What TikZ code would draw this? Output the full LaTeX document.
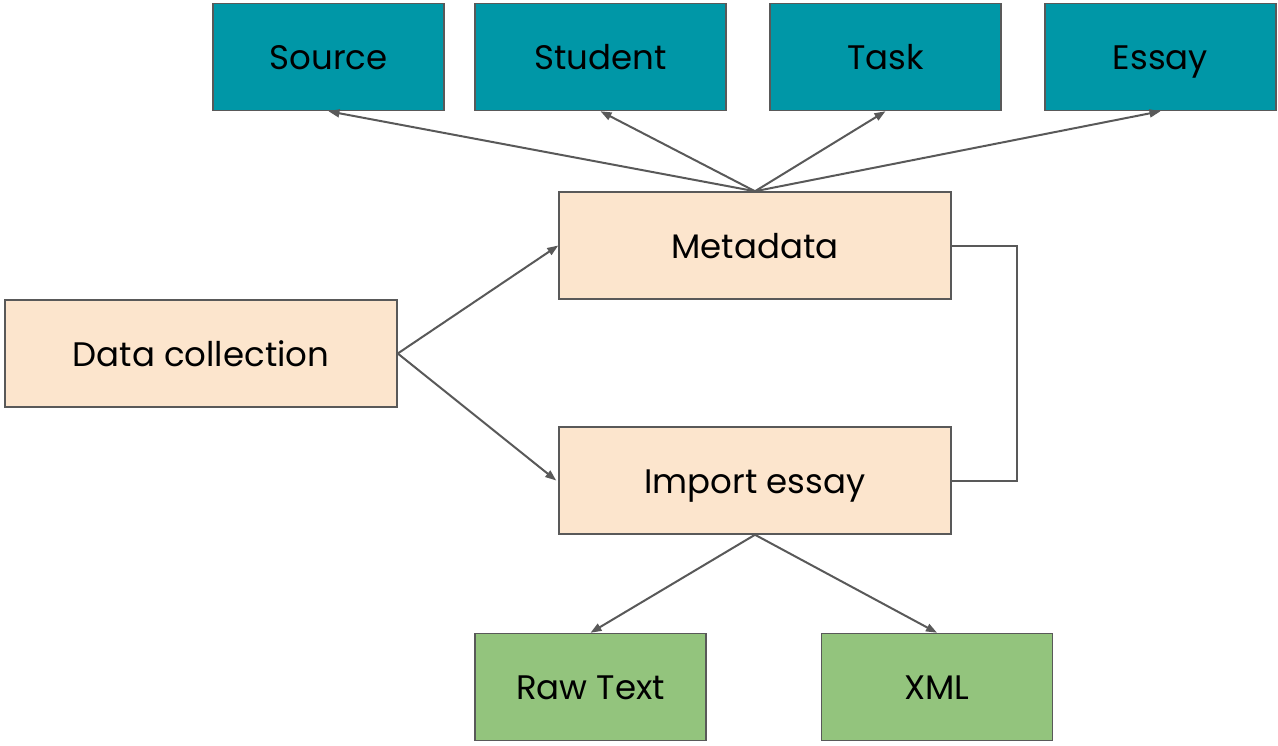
\documentclass[tikz,border=0pt]{standalone}
\usepackage{fontspec}
\setmainfont{Poppins}
\usetikzlibrary{arrows.meta,positioning,calc}

\begin{document}
\begin{tikzpicture}[x=1pt,y=-1pt,line width=2pt,
  box/.style={draw=black!65,line width=1.5pt,minimum height=107pt,inner sep=0pt,
    text height=29pt,text depth=4pt,font=\fontsize{34}{40}\selectfont},
  meta box/.style={box,fill=top,minimum width=231pt},
  work box/.style={box,fill=mid,minimum width=392pt},
  out box/.style={box,fill=low,minimum width=231pt},
  link/.style={draw=black!65,-{Triangle[length=11pt,width=8pt]}}]
\colorlet{top}{rgb,255:red,0;green,151;blue,167}
\colorlet{mid}{rgb,255:red,252;green,229;blue,205}
\colorlet{low}{rgb,255:red,147;green,196;blue,125}
\useasboundingbox (0,0) rectangle (1278,745);
% metadata fields
\node [meta box] (src) at (328.5,57) {Source};
\node [meta box,minimum width=251pt] (stu) at (600.5,57) {Student};
\node [meta box] (task) at (885.5,57) {Task};
\node [meta box] (essay) at (1160.5,57) {Essay};
% main steps
\node [work box] (meta) at (755,245.5) {Metadata};
\node [work box] (data) at (201,353.5) {Data collection};
\node [work box] (imp) at (755,480.5) {Import essay};
% outputs
\node [out box] (raw) at (590.5,687) {Raw Text};
\node [out box] (xml) at (937,687) {XML};
\foreach \f in {src,stu,task,essay}
  \draw [link] (meta.north) -- (\f.south);
\draw [link] (data.east) -- (meta.west);
\draw [link] (data.east) -- ($(imp.west)+(-2,0)$);
\draw [link] (imp.south) -- (raw.north);
\draw [link] (imp.south) -- (xml.north);
\draw [draw=black!65] (meta.east) -- ++(65,0) |- (imp.east);
\end{tikzpicture}
\end{document}
